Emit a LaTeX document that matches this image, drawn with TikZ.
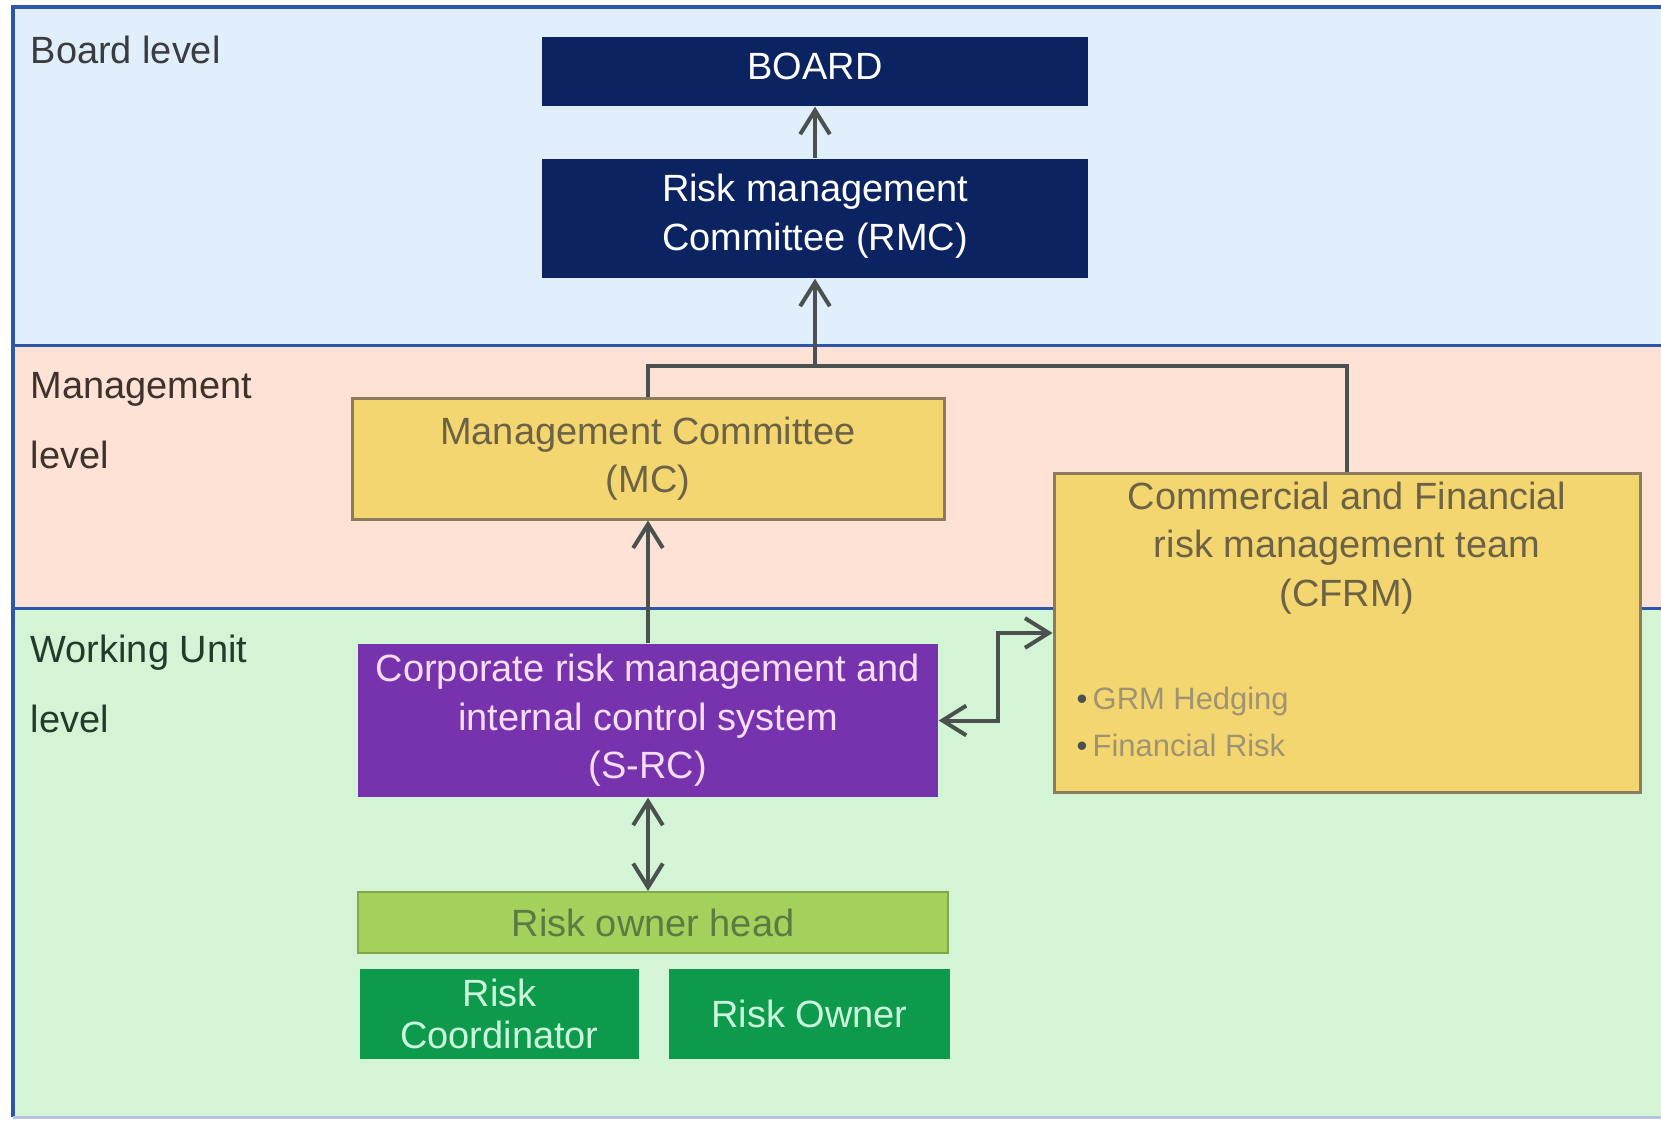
\documentclass[tikz,border=0pt]{standalone}
\usepackage{fontspec}
\setmainfont{Liberation Sans}
\usepackage{tikz}
\usetikzlibrary{shapes,backgrounds,fit,positioning,arrows,arrows.meta,calc}

\definecolor{boardbg}{HTML}{E1EEFB}
\definecolor{mgmtbg}{HTML}{FDE2D5}
\definecolor{workbg}{HTML}{D3F5D6}
\definecolor{bandline}{HTML}{2F56A6}
\definecolor{navy}{HTML}{0B2461}
\definecolor{sand}{HTML}{F4D670}
\definecolor{sandline}{HTML}{8C7C5E}
\definecolor{sandtext}{HTML}{6C6246}
\definecolor{sandlight}{HTML}{9E9372}
\definecolor{purp}{HTML}{7733AE}
\definecolor{purptext}{HTML}{F6DDF8}
\definecolor{lime}{HTML}{A3D15B}
\definecolor{limetext}{HTML}{5A7B43}
\definecolor{leaf}{HTML}{0E9A4C}
\definecolor{leaftext}{HTML}{CBF7DA}
\definecolor{arrowgray}{HTML}{4B514E}
\definecolor{lvlboard}{HTML}{3A3C40}
\definecolor{lvlmgmt}{HTML}{3D332D}
\definecolor{lvlwork}{HTML}{203C2B}

\begin{document}
\begin{tikzpicture}[x=0.1mm,y=-0.1mm,>={Straight Barb[angle=64:2.8mm]},
  box/.style={inner sep=0pt, align=center, font=\fontsize{10.8}{13.8}\selectfont},
  navybox/.style={box, fill=navy, text=white},
  sandbox/.style={box, fill=sand, draw=sandline, line width=0.3mm, text=sandtext},
  purpbox/.style={box, fill=purp, text=purptext},
  limebox/.style={box, fill=lime, draw=lime!80!black, line width=0.2mm, text=limetext},
  leafbox/.style={box, fill=leaf, text=leaftext, font=\fontsize{10.8}{12}\selectfont},
  lvl/.style={anchor=north west, inner sep=0pt, align=left, font=\fontsize{10.8}{19.9}\selectfont},
  conn/.style={draw=arrowgray, line width=0.4mm}]
\useasboundingbox (0,0) rectangle (1661,1122);
% level bands
\fill[boardbg] (13,7) rectangle (1661,345);
\fill[mgmtbg] (13,345) rectangle (1661,608);
\fill[workbg] (13,608) rectangle (1661,1117);
\draw[bandline, line width=0.3mm] (13,345) -- (1661,345);
\draw[bandline, line width=0.3mm] (13,608) -- (1661,608);
\draw[bandline, line width=0.35mm] (1661,7) -- (13,7) -- (13,1117);
\draw[bandline!35, line width=0.3mm] (13,1117) -- (1661,1117);
\node[lvl, text=lvlboard] (lvlB) at (30,35) {Board level};
\node[lvl, text=lvlmgmt] (lvlM) at (30,372) {Management\\level};
\node[lvl, text=lvlwork] (lvlW) at (30,634) {Working Unit\\level};
% boxes
\node[navybox, minimum width=54.6mm, minimum height=6.9mm] (board) at (815,71.5) {};
\node[text=white, inner sep=0pt, font=\fontsize{10.8}{13.8}\selectfont] (boardtxt) at (815,66) {BOARD};
\node[navybox, minimum width=54.6mm, minimum height=11.9mm] (rmc) at (815,218.5) {};
\node[box, text=white] (rmctxt) at (815,216) {Risk management\\Committee (RMC)};
\node[sandbox, minimum width=59.2mm, minimum height=12.1mm] (mc) at (648,458.5) {Management Committee\\(MC)};
\node[sandbox, minimum width=58.6mm, minimum height=31.9mm] (cfrm) at (1347,632.5) {};
\node[box, text=sandtext] (cfrmtxt) at (1347,548) {Commercial and Financial\\risk management team\\(CFRM)};
\node[anchor=west, inner sep=0pt, align=left, text=sandlight, font=\fontsize{8.8}{13.5}\selectfont] (cfrmlist) at (1076,722)
  {{\color{arrowgray}\textbullet}\,GRM Hedging\\{\color{arrowgray}\textbullet}\,Financial Risk};
\node[purpbox, minimum width=58.0mm, minimum height=15.3mm] (src) at (648,720.5) {Corporate risk management and\\internal control system\\(S-RC)};
\node[limebox, minimum width=59.0mm, minimum height=6.1mm] (roh) at (653,922.5) {Risk owner head};
\node[leafbox, minimum width=27.9mm, minimum height=9.0mm] (rc) at (499.5,1014) {Risk\\Coordinator};
\node[leafbox, minimum width=28.1mm, minimum height=9.0mm] (ro) at (809.5,1014) {Risk Owner};
% connectors
\coordinate (jn) at (815,366);
\coordinate (kink) at (998,633);
\draw[conn, ->] (rmc.north) -- (board.south);
\draw[conn, ->] (jn) -- (rmc.south);
\draw[conn] (mc.north) |- (jn) -| (cfrm.north);
\draw[conn, ->] (src.north) -- (mc.south);
\draw[conn, <->] (src.east) -| (kink) -- (kink -| cfrm.west);
\draw[conn, <->] (src.south) -- (src.south |- roh.north);
\end{tikzpicture}
\end{document}
